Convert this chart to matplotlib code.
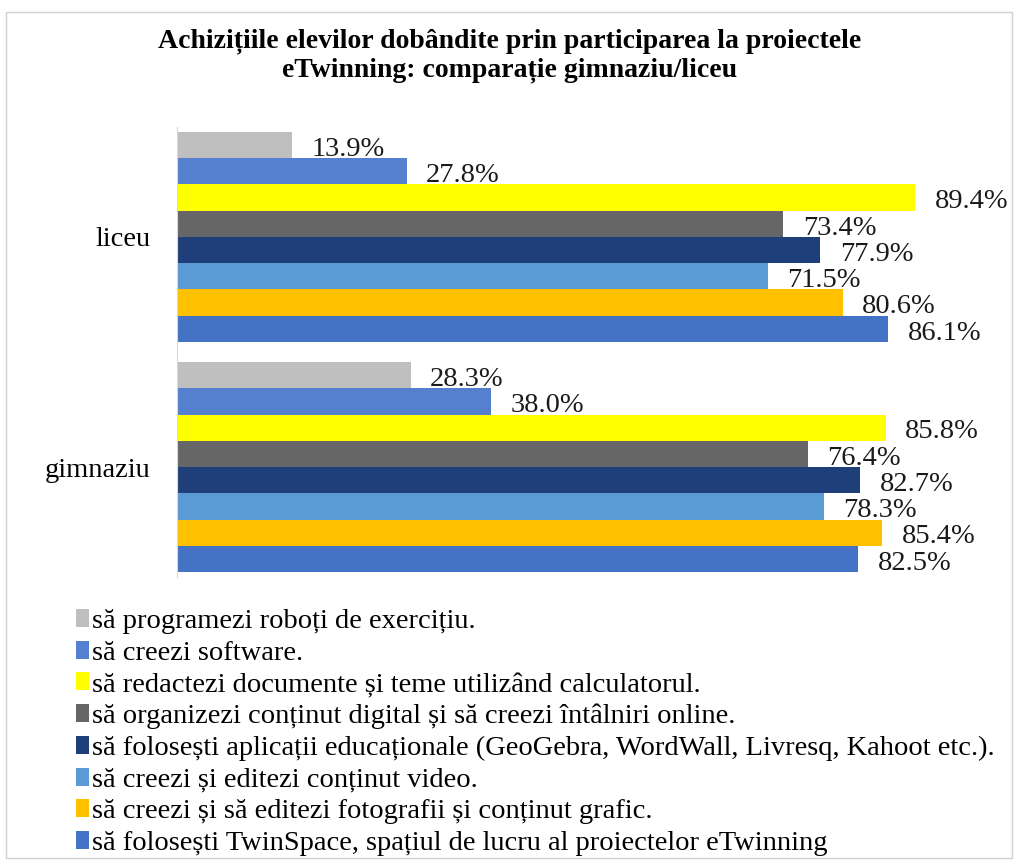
import matplotlib
matplotlib.use("Agg")
import matplotlib.pyplot as plt
from matplotlib.patches import Rectangle
import numpy as np

plt.rcParams["font.family"] = ["Liberation Serif", "DejaVu Serif"]

categories = ["liceu", "gimnaziu"]

series_labels = [
    "să programezi roboți de exercițiu.",
    "să creezi software.",
    "să redactezi documente și teme utilizând calculatorul.",
    "să organizezi conținut digital și să creezi întâlniri online.",
    "să folosești aplicații educaționale (GeoGebra, WordWall, Livresq, Kahoot etc.).",
    "să creezi și editezi conținut video.",
    "să creezi și să editezi fotografii și conținut grafic.",
    "să folosești TwinSpace, spațiul de lucru al proiectelor eTwinning",
]

# values per series: [liceu, gimnaziu]
roboti = [13.9, 28.3]
software = [27.8, 38.0]
redactare = [89.4, 85.8]
organizare = [73.4, 76.4]
aplicatii = [77.9, 82.7]
video = [71.5, 78.3]
fotografii = [80.6, 85.4]
twinspace = [86.1, 82.5]

series_values = [roboti, software, redactare, organizare, aplicatii, video, fotografii, twinspace]

colors = ["#BFBFBF", "#5580D0", "#FFFF00", "#666666", "#1F3F7A", "#5B9BD5", "#FFC000", "#4472C4"]

fig = plt.figure(figsize=(10.19, 8.64), dpi=100)
ax = fig.add_axes([177 / 1019, 1 - 577 / 864, 826 / 1019, 450 / 864])

y = np.arange(len(categories))
h = 0.1141
n = len(series_values)

handles = []
for i, (vals, col, lab) in enumerate(zip(series_values, colors, series_labels)):
    pos = y + (i - (n - 1) / 2) * h
    b = ax.barh(pos, vals, height=h, color=col, label=lab)
    handles.append(b)
    for p, v in zip(pos, vals):
        ax.annotate(f"{v:.1f}%", (v, p), xytext=(14, -3), textcoords="offset points",
                    ha="left", va="center", fontsize=20.5, color="#1A1A1A",
                    annotation_clip=False)

ax.set_xlim(0, 100)
ax.set_ylim(1.478, -0.478)
ax.set_yticks(y)
ax.set_yticklabels(categories, fontsize=20.5)
ax.tick_params(axis="y", length=0, pad=19)
ax.set_xticks([])
for s in ["top", "right", "bottom"]:
    ax.spines[s].set_visible(False)
ax.spines["left"].set_color("#D9D9D9")

fig.text(0.5, 1 - 56 / 864,
         "Achizițiile elevilor dobândite prin participarea la proiectele\neTwinning: comparație gimnaziu/liceu",
         ha="center", va="center", fontsize=20, fontweight="bold", linespacing=1.2)

fig.legend(handles=handles, labels=series_labels, loc="upper left",
           bbox_to_anchor=(76 / 1019, 1 - 609 / 864), frameon=False, fontsize=20.5,
           handlelength=0.45, handleheight=0.6, handletextpad=0.12,
           labelspacing=0.23, borderpad=0, borderaxespad=0)

fig.patches.append(Rectangle((6 / 1019, 6 / 864), 1006 / 1019, 846 / 864,
                             transform=fig.transFigure, fill=False,
                             edgecolor="#D0D0D0", linewidth=1))

fig.savefig("out.png", dpi=100)
plt.close(fig)
